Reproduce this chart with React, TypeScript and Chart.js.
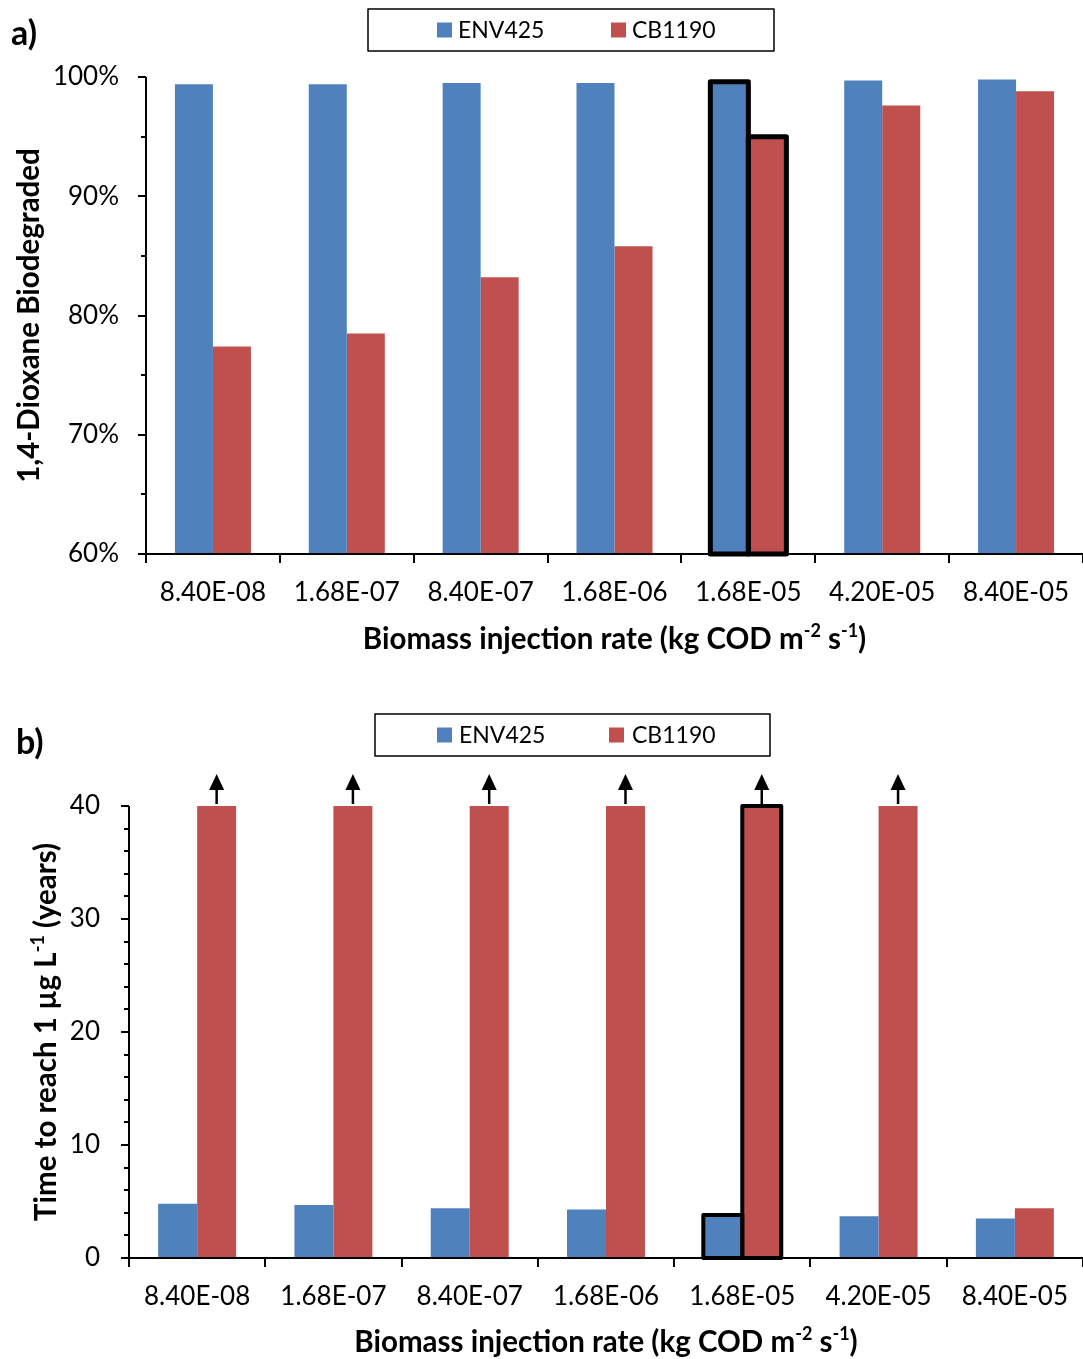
import React, { useEffect, useRef } from 'react';
import { Chart, registerables } from 'chart.js';

Chart.register(...registerables);

// Biomass injection rates (kg COD m-2 s-1), one category per rate
const injectionRates = ['8.40E-08', '1.68E-07', '8.40E-07', '1.68E-06', '1.68E-05', '4.20E-05', '8.40E-05'];
const seriesNames = ['ENV425', 'CB1190'];
const seriesColors = ['#4F81BD', '#C0504D'];
const highlightedRate = '1.68E-05';

// a) fraction of 1,4-dioxane biodegraded (%)
const biodegradedEnv425 = [99.4, 99.4, 99.5, 99.5, 99.6, 99.7, 99.8];
const biodegradedCb1190 = [77.4, 78.5, 83.2, 85.8, 95.0, 97.6, 98.8];
const biodegradedAxis = { min: 60, max: 100, step: 10, minor: 5 };

// b) time to reach 1 µg/L (years); CB1190 values flagged as exceeding the 40-year horizon
const timeEnv425 = [4.8, 4.7, 4.4, 4.3, 3.8, 3.7, 3.5];
const timeCb1190 = [40, 40, 40, 40, 40, 40, 4.4];
const timeCb1190Exceeds = [true, true, true, true, true, true, false];
const timeAxis = { min: 0, max: 40, step: 10, minor: 2 };

const FONT = 'Lato, "Open Sans", sans-serif';
const WIDTH = 1083;
const TITLE_SIZE = 29.5;

type Run = { text: string; sup?: boolean };

interface PanelSpec {
  id: string;
  height: number;
  plotLeft: number;
  plotTop: number;
  plotBottom: number;
  axis: { min: number; max: number; step: number; minor: number };
  format: (v: number) => string;
  yPad: number;
  env: number[];
  cb: number[];
  exceeds?: boolean[];
  yTitle: Run[];
  yTitleX: number;
  xTitleY: number;
  legendBox: [number, number, number, number];
  swatchX: [number, number];
  textX: [number, number];
  panelLabel: string;
  panelLabelX: number;
  panelLabelY: number;
  highlightWidth: number;
  barPct: number;
}

const xTitle: Run[] = [
  { text: 'Biomass injection rate (kg COD m' },
  { text: '-2', sup: true },
  { text: ' s' },
  { text: '-1', sup: true },
  { text: ')' },
];

function drawRuns(ctx: CanvasRenderingContext2D, runs: Run[], cx: number, cy: number, size: number, rotate: boolean) {
  const base = `bold ${size}px ${FONT}`;
  const small = `bold ${Math.round(size * 0.6)}px ${FONT}`;
  ctx.save();
  ctx.translate(cx, cy);
  if (rotate) ctx.rotate(-Math.PI / 2);
  let total = 0;
  for (const r of runs) {
    ctx.font = r.sup ? small : base;
    total += ctx.measureText(r.text).width;
  }
  let x = -total / 2;
  ctx.fillStyle = '#000';
  ctx.textAlign = 'left';
  ctx.textBaseline = 'alphabetic';
  const baseline = size * 0.36;
  for (const r of runs) {
    ctx.font = r.sup ? small : base;
    ctx.fillText(r.text, x, r.sup ? baseline - size * 0.38 : baseline);
    x += ctx.measureText(r.text).width;
  }
  ctx.restore();
}

function panelDecor(spec: PanelSpec, hi: number) {
  return {
    id: 'panelDecor',
    afterDatasetsDraw(chart: any) {
      const ctx: CanvasRenderingContext2D = chart.ctx;
      const { left, right, top, bottom } = chart.chartArea;
      const ys = chart.scales.y;
      const n = injectionRates.length;
      const cw = (right - left) / n;
      ctx.save();

      // highlighted category outline
      ctx.strokeStyle = '#000';
      ctx.lineWidth = spec.highlightWidth;
      ctx.lineJoin = 'round';
      for (let d = 0; d < 2; d++) {
        const bar = chart.getDatasetMeta(d).data[hi];
        const { x, y, base, width } = bar.getProps(['x', 'y', 'base', 'width'], true);
        const b = Math.min(base, bottom);
        ctx.strokeRect(x - width / 2, y, width, b - y);
      }

      // arrows on values beyond the axis range
      if (spec.exceeds) {
        const meta = chart.getDatasetMeta(1);
        spec.exceeds.forEach((flag, i) => {
          if (!flag) return;
          const { x, y } = meta.data[i].getProps(['x', 'y'], true);
          ctx.lineWidth = 2.5;
          ctx.beginPath();
          ctx.moveTo(x, y - 2);
          ctx.lineTo(x, y - 18);
          ctx.stroke();
          ctx.fillStyle = '#000';
          ctx.beginPath();
          ctx.moveTo(x, y - 32);
          ctx.lineTo(x - 7.5, y - 16);
          ctx.lineTo(x + 7.5, y - 16);
          ctx.closePath();
          ctx.fill();
        });
      }

      // axes and tick marks
      ctx.strokeStyle = '#000';
      ctx.lineWidth = 2;
      ctx.lineCap = 'butt';
      ctx.beginPath();
      ctx.moveTo(left, top);
      ctx.lineTo(left, bottom);
      ctx.moveTo(left, bottom);
      ctx.lineTo(right, bottom);
      const { min, max, step, minor } = spec.axis;
      for (let v = min; v <= max + 1e-9; v += minor) {
        const py = Math.round(ys.getPixelForValue(v));
        const major = Math.abs(((v - min) / step) - Math.round((v - min) / step)) < 1e-6;
        ctx.moveTo(left - (major ? 8 : 5), py);
        ctx.lineTo(left, py);
      }
      for (let i = 0; i <= n; i++) {
        const px = Math.round(left + i * cw);
        ctx.moveTo(px, bottom);
        ctx.lineTo(px, bottom + 9);
      }
      ctx.stroke();

      // legend
      const [bx, by, bw, bh] = spec.legendBox;
      ctx.lineWidth = 1.5;
      ctx.strokeRect(bx, by, bw, bh);
      const cy = by + bh / 2;
      ctx.font = `23px ${FONT}`;
      ctx.textBaseline = 'middle';
      ctx.textAlign = 'left';
      for (let d = 0; d < 2; d++) {
        ctx.fillStyle = seriesColors[d];
        ctx.fillRect(spec.swatchX[d], cy - 7.5, 15, 15);
        ctx.fillStyle = '#000';
        ctx.fillText(seriesNames[d], spec.textX[d], cy + 1);
      }

      // panel label
      ctx.font = `bold 34px ${FONT}`;
      ctx.textBaseline = 'alphabetic';
      ctx.fillText(spec.panelLabel, spec.panelLabelX, spec.panelLabelY);
      ctx.restore();

      // axis titles
      drawRuns(ctx, xTitle, (left + right) / 2, spec.xTitleY, TITLE_SIZE, false);
      drawRuns(ctx, spec.yTitle, spec.yTitleX, (top + bottom) / 2, TITLE_SIZE, true);
    },
  };
}

function makeConfig(spec: PanelSpec): any {
  const hi = injectionRates.indexOf(highlightedRate);
  return {
    type: 'bar',
    data: {
      labels: injectionRates,
      datasets: [
        { label: seriesNames[0], data: spec.env, backgroundColor: seriesColors[0], borderWidth: 0, categoryPercentage: spec.barPct, barPercentage: 1 },
        { label: seriesNames[1], data: spec.cb, backgroundColor: seriesColors[1], borderWidth: 0, categoryPercentage: spec.barPct, barPercentage: 1 },
      ],
    },
    options: {
      responsive: false,
      animation: false,
      devicePixelRatio: 1,
      layout: { padding: { left: 0, right: 0, top: spec.plotTop, bottom: 0 } },
      plugins: { legend: { display: false }, tooltip: { enabled: false } },
      scales: {
        x: {
          grid: { display: false, drawTicks: false, tickLength: 0 },
          border: { display: false },
          ticks: { font: { family: FONT, size: 26 }, color: '#000', padding: 23, maxRotation: 0, autoSkip: false },
          afterFit: (s: any) => {
            s.height = spec.height - spec.plotBottom;
            s.paddingLeft = 0;
            s.paddingRight = 0;
          },
        },
        y: {
          min: spec.axis.min,
          max: spec.axis.max,
          grid: { display: false, drawTicks: false, tickLength: 0 },
          border: { display: false },
          ticks: { stepSize: spec.axis.step, callback: (v: number) => spec.format(v), font: { family: FONT, size: 26 }, color: '#000', padding: spec.yPad },
          afterFit: (s: any) => { s.width = spec.plotLeft; },
        },
      },
    },
    plugins: [panelDecor(spec, hi)],
  };
}

const panelA: PanelSpec = {
  id: 'a',
  height: 680,
  plotLeft: 146,
  plotTop: 77,
  plotBottom: 554,
  axis: biodegradedAxis,
  format: (v) => `${v}%`,
  yPad: 27,
  env: biodegradedEnv425,
  cb: biodegradedCb1190,
  yTitle: [{ text: '1,4-Dioxane Biodegraded' }],
  yTitleX: 28,
  xTitleY: 638,
  legendBox: [368, 9, 406, 42],
  swatchX: [437, 611],
  textX: [458, 632],
  panelLabel: 'a)',
  panelLabelX: 11,
  panelLabelY: 45,
  highlightWidth: 5,
  barPct: 0.568,
};

const panelB: PanelSpec = {
  id: 'b',
  height: 679,
  plotLeft: 129,
  plotTop: 126,
  plotBottom: 578,
  axis: timeAxis,
  format: (v) => `${v}`,
  yPad: 29,
  env: timeEnv425,
  cb: timeCb1190,
  exceeds: timeCb1190Exceeds,
  yTitle: [{ text: 'Time to reach 1 µg L' }, { text: '-1', sup: true }, { text: ' (years)' }],
  yTitleX: 45,
  xTitleY: 661,
  legendBox: [375, 34, 395, 42],
  swatchX: [437, 609],
  textX: [459, 632],
  panelLabel: 'b)',
  panelLabelX: 16,
  panelLabelY: 74,
  highlightWidth: 4,
  barPct: 0.572,
};

function Panel({ spec }: { spec: PanelSpec }) {
  const ref = useRef<HTMLCanvasElement>(null);
  useEffect(() => {
    const chart = new Chart(ref.current as HTMLCanvasElement, makeConfig(spec));
    return () => chart.destroy();
  }, [spec]);
  return <canvas ref={ref} width={WIDTH} height={spec.height} style={{ display: 'block', width: WIDTH, height: spec.height }} />;
}

export default function App() {
  return (
    <div style={{ position: 'absolute', left: 0, top: 0, width: WIDTH, height: 1359, background: '#fff' }}>
      <Panel spec={panelA} />
      <Panel spec={panelB} />
    </div>
  );
}
